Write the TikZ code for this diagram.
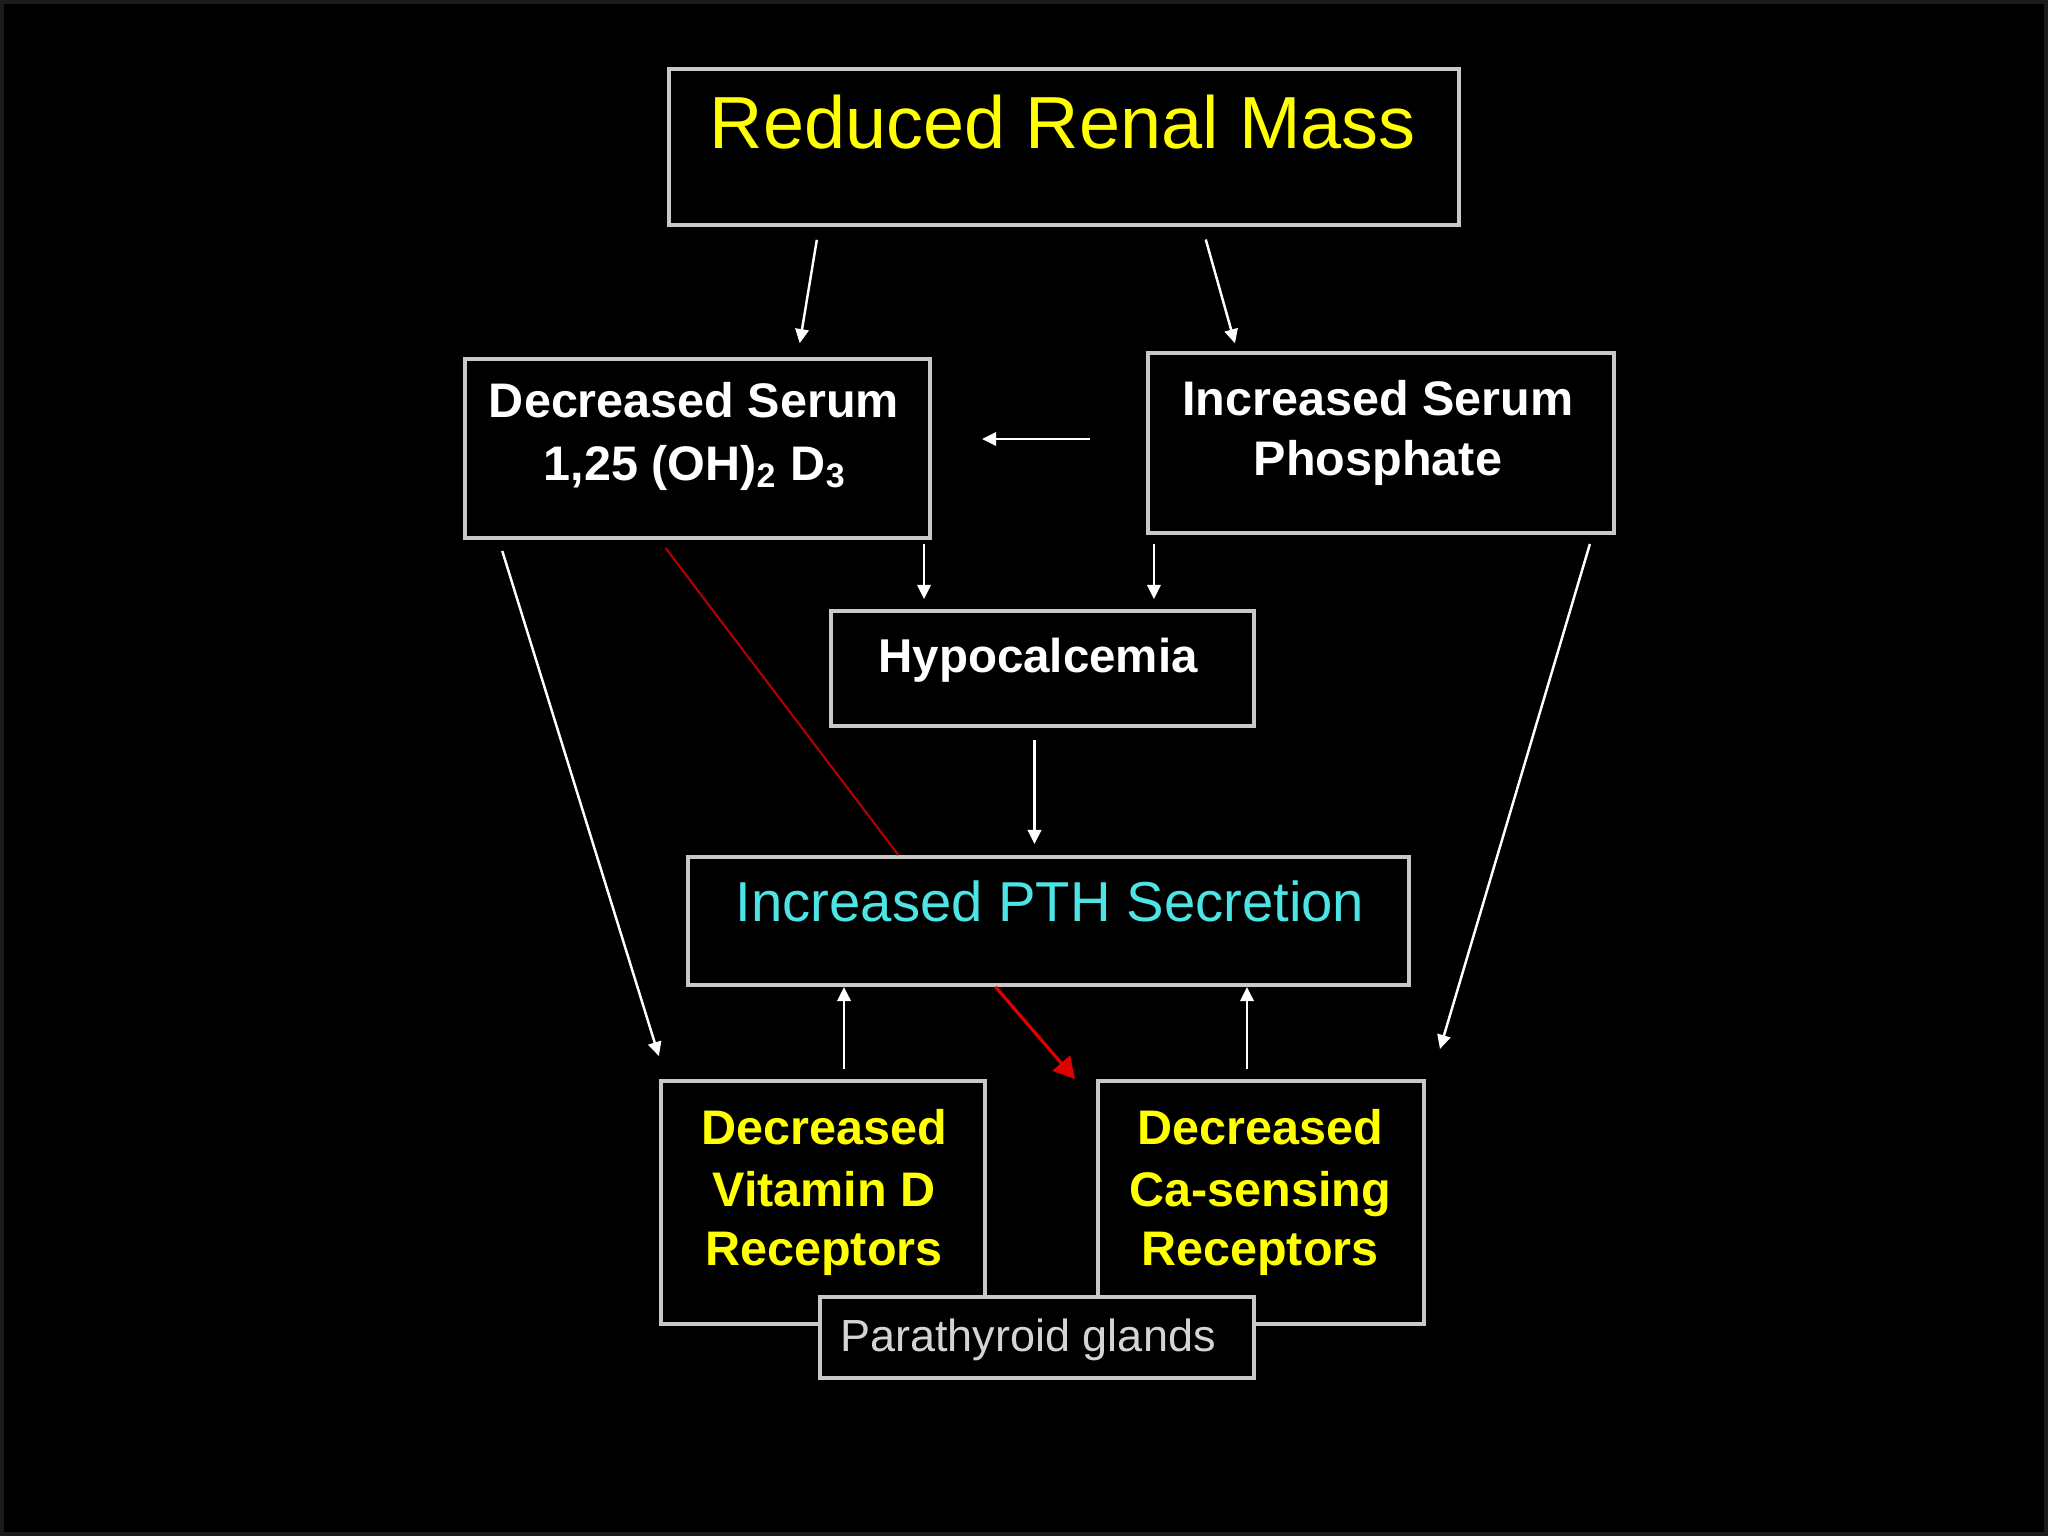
\documentclass[tikz,border=0pt]{standalone}
\usepackage{fontspec}
\setmainfont{Liberation Sans}
\usetikzlibrary{arrows.meta,calc}
\definecolor{edge}{HTML}{C8C8C8}
\definecolor{ylw}{HTML}{FFFF00}
\definecolor{cyn}{HTML}{4CE4E4}
\definecolor{redA}{HTML}{B00000}
\definecolor{redB}{HTML}{E00000}
\definecolor{frm}{HTML}{1C1C1C}
\definecolor{gry}{HTML}{D4D4D4}
\begin{document}
\begin{tikzpicture}[x=0.01cm,y=-0.01cm,
  box/.style={draw=edge, line width=1.1pt, fill=black, rectangle, inner sep=0pt},
  arr/.style={draw=white, line width=0.7pt, -{Triangle[length=4pt,width=3.8pt]}},
  txt/.style={inner sep=0pt, anchor=base},
  lab/.style={txt, font=\fontsize{13.8}{16}\selectfont\bfseries, text=white},
  ylab/.style={txt, font=\fontsize{13.8}{16}\selectfont\bfseries, text=ylw}]
\fill[black] (0,0) rectangle (2048,1536);
\draw[frm, line width=1.1pt] (2,2) rectangle (2046,1534);
\useasboundingbox (0,0) rectangle (2048,1536);

% boxes
\node[box, minimum width=7.90cm, minimum height=1.56cm] (top) at (1064,147) {};
\node[box, minimum width=4.65cm, minimum height=1.79cm] (dser) at (697.5,448.5) {};
\node[box, minimum width=4.66cm, minimum height=1.80cm] (iser) at (1381,443) {};
\node[box, minimum width=4.23cm, minimum height=1.15cm] (hypo) at (1042.5,668.5) {};
\node[box, minimum width=7.21cm, minimum height=1.28cm] (pth) at (1048.5,921) {};
\node[box, minimum width=3.24cm, minimum height=2.43cm] (vitd) at (823,1202.5) {};
\node[box, minimum width=3.26cm, minimum height=2.43cm] (casr) at (1261,1202.5) {};
\node[box, minimum width=4.34cm, minimum height=0.81cm] (para) at (1037,1337.5) {};

% texts
\node[txt, font=\fontsize{21}{25}\selectfont, text=ylw] (ttop) at (1063,148) {Reduced Renal Mass};
\node[lab] (d1) at (694,417) {Decreased Serum};
\node[lab] (d2) at (695,480) {1,25 (OH)\textsubscript{2} D\textsubscript{3}};
\node[lab] (i1) at (1378,415) {Increased Serum};
\node[lab] (i2) at (1378,475) {Phosphate};
\node[txt, font=\fontsize{13.5}{16}\selectfont\bfseries, text=white] (h1) at (1038,672) {Hypocalcemia};
\node[txt, font=\fontsize{16}{19}\selectfont, text=cyn] (p1) at (1050,921) {Increased PTH Secretion};
\node[ylab] (v1) at (824,1144) {Decreased};
\node[ylab] (v2) at (824,1206) {Vitamin D};
\node[ylab] (v3) at (824,1265) {Receptors};
\node[ylab] (c1) at (1260,1144) {Decreased};
\node[ylab] (c2) at (1260,1206) {Ca-sensing};
\node[ylab] (c3) at (1260,1265) {Receptors};
\node[txt, font=\fontsize{12.8}{15}\selectfont, text=gry] (g1) at (1028,1351) {Parathyroid glands};

% connectors
\draw[arr, shorten <=0.13cm, shorten >=0.14cm] ($(top.south west)!0.1915!(top.south east)$) -- ($(dser.north west)!0.713!(dser.north east)$);
\draw[arr, shorten <=0.13cm, shorten >=0.08cm] ($(top.south west)!0.674!(top.south east)$) -- ($(iser.north west)!0.194!(iser.north east)$);
\draw[arr, shorten <=0.56cm, shorten >=0.50cm] ($(iser.west)+(0,-4)$) -- ($(iser.west -| dser.east)+(0,-4)$);
\draw[arr, shorten <=0.04cm, shorten >=0.10cm] ($(dser.south east)+(-8,0)$) -- ($(dser.south east |- hypo.north)+(-8,0)$);
\draw[arr, shorten <=0.09cm, shorten >=0.10cm] ($(iser.south west)+(8,0)$) -- ($(iser.south west |- hypo.north)+(8,0)$);
\draw[arr, shorten <=0.12cm, shorten >=0.11cm] ($(hypo.south)+(-8,0)$) -- ($(hypo.south |- pth.north)+(-8,0)$);
\draw[arr, shorten <=0.10cm] ($(vitd.north)+(21,0)$) -- ($(vitd.north |- pth.south)+(21,0)$);
\draw[arr, shorten <=0.10cm] ($(casr.north)+(-14,0)$) -- ($(casr.north |- pth.south)+(-14,0)$);
\draw[arr, shorten <=0.115cm, shorten >=0.24cm] ($(dser.south west)!0.0766!(dser.south east)$) -- ($(vitd.north west)+(7,0)$);
\draw[arr, shorten <=0.094cm, shorten >=0.313cm] ($(iser.south west)!0.95!(iser.south east)$) -- ($(casr.north east)+(5,0)$);
\draw[redA, line width=0.6pt, shorten <=0.10cm] ($(dser.south west)!0.419!(dser.south east)$) -- ($(pth.north west)!0.293!(pth.north east)$);
\draw[redB, line width=0.9pt, -{Triangle[length=6pt,width=6.5pt]}] ($(pth.south west)!0.427!(pth.south east)$) -- ($(casr.north west)+(-21,0)$);
\end{tikzpicture}
\end{document}
